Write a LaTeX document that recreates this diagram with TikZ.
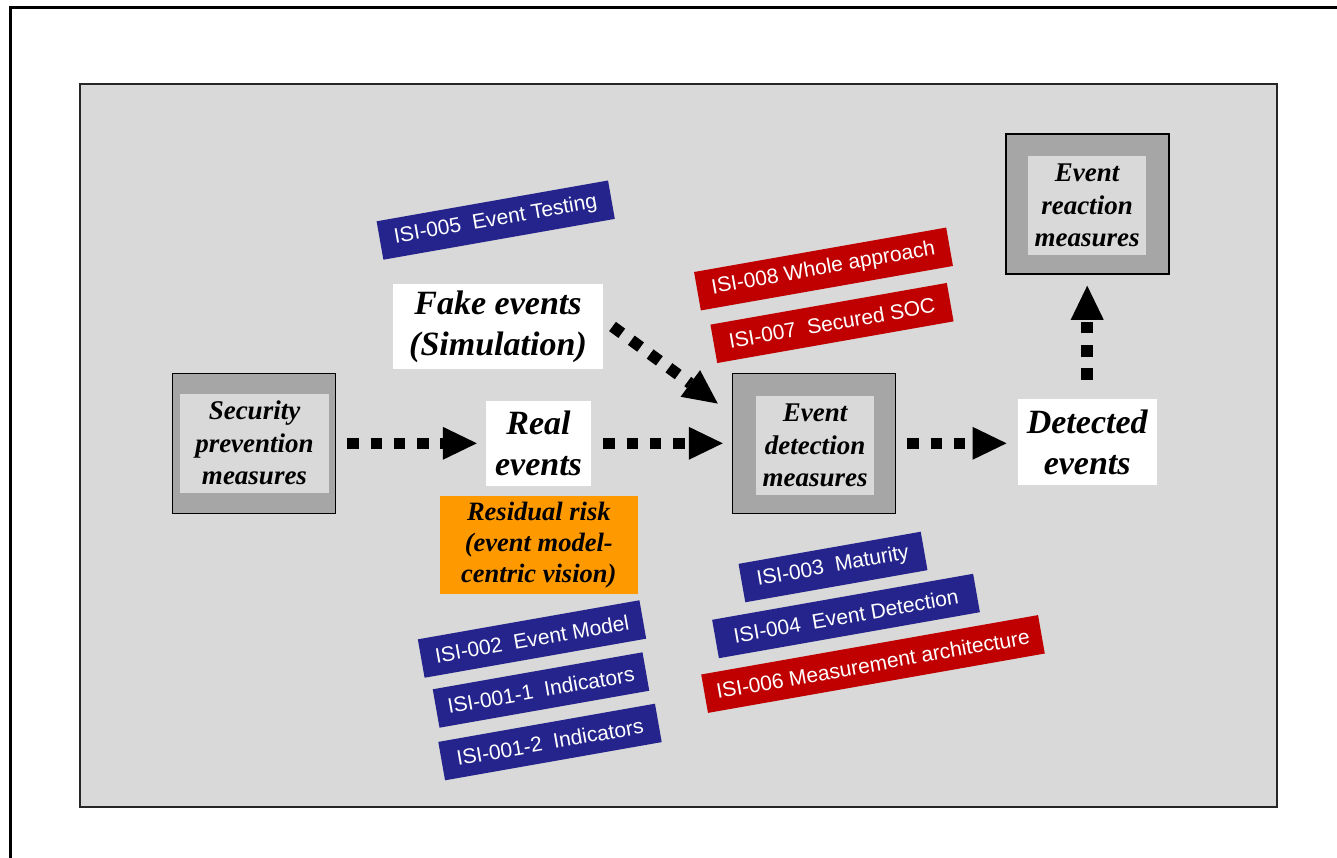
\documentclass[tikz,border=0pt]{standalone}
\usepackage{fontspec}
\setmainfont{Liberation Serif}
\newfontfamily\tagfont{Liberation Sans}
\usetikzlibrary{arrows.meta}
\definecolor{panelgray}{HTML}{D9D9D9}
\definecolor{boxgray}{HTML}{A6A6A6}
\definecolor{tagblue}{RGB}{36,36,140}
\definecolor{tagred}{HTML}{C00000}
\definecolor{riskorange}{HTML}{FF9900}
\begin{document}
\begin{tikzpicture}[x=1pt,y=-1pt,
  outerbox/.style={draw=black, line width=1.5pt, fill=boxgray, minimum width=163pt, minimum height=140pt, inner sep=0pt},
  innerbox/.style={fill=panelgray, minimum width=118pt, minimum height=99pt, inner sep=0pt, align=center, font=\fontsize{27}{32.5}\selectfont\bfseries\itshape},
  whitebox/.style={fill=white, inner sep=0pt, align=center, font=\fontsize{34}{41}\selectfont\bfseries\itshape},
  tag/.style={rotate=10, minimum height=39pt, inner sep=0pt, text=white, font=\tagfont\fontsize{21}{24}\selectfont},
  bluetag/.style={tag, fill=tagblue},
  redtag/.style={tag, fill=tagred},
  flow/.style={line width=11.5pt, dash pattern=on 11.5pt off 11.8pt, -{Triangle[length=34pt,width=33pt,line width=0pt]}}
]
\useasboundingbox (0,0) rectangle (1337,858);
\clip (0,0) rectangle (1337,858);
\fill[white] (0,0) rectangle (1337,858);
% outer frame (cut by the page at right and bottom)
\draw[line width=3pt] (10,8) rectangle (1380,900);
% grey panel
\filldraw[fill=panelgray, draw=black!85, line width=1.5pt] (80,84) rectangle (1277,807);

% measure boxes
\node[outerbox] (sec) at (254,443.3) {};
\node[innerbox, minimum width=149pt] (sectxt) at (254.5,443) {Security\\prevention\\measures};
\node[outerbox] (det) at (814,443.3) {};
\node[innerbox] (dettxt) at (815,445.5) {Event\\detection\\measures};
\node[outerbox] (react) at (1087.4,204) {};
\node[innerbox] (reacttxt) at (1087,205.4) {Event\\reaction\\measures};

% event labels
\node[whitebox, minimum width=210.6pt, minimum height=85pt] (fake) at (498,326.5) {Fake events\\(Simulation)};
\node[whitebox, minimum width=105pt, minimum height=84.7pt] (real) at (538.5,443.3) {Real\\events};
\node[whitebox, minimum width=139pt, minimum height=86pt] (detected) at (1087.2,442) {Detected\\events};
\node[fill=riskorange, minimum width=197.7pt, minimum height=98pt, inner sep=0pt, align=center, font=\fontsize{26.5}{31}\selectfont\bfseries\itshape] (risk) at (538.8,545) {Residual risk\\(event model-\\centric vision)};

% flows
\draw[flow, shorten <=11pt, shorten >=9pt] (sec.east) -- (real.west);
\draw[flow, shorten <=12pt, shorten >=9pt] (real.east) -- (det.west);
\draw[flow, shorten <=11pt, shorten >=11pt] (det.east) -- (det.east -| detected.west);
\draw[flow, shorten <=19pt, shorten >=11pt] (detected.north) -- (detected.north |- react.south);
\draw[flow] ([shift={(9,0)}]fake.east) -- ([shift={(-14,31)}]det.north west);

% ISI tags
\node[bluetag, minimum width=235pt] (t005) at (495.7,220.1) {ISI-005~~Event Testing};
\node[redtag, minimum width=256pt] (t008) at (823.5,269) {ISI-008 Whole approach};
\node[redtag, minimum width=240pt] (t007) at (832,323) {ISI-007~~Secured SOC};
\node[bluetag, minimum width=225pt] (t002) at (532,639) {ISI-002~~Event Model};
\node[bluetag, minimum width=213pt] (t0011) at (541,690) {ISI-001-1~~Indicators};
\node[bluetag, minimum width=220pt] (t0012) at (550,742) {ISI-001-2~~Indicators};
\node[bluetag, minimum width=185pt] (t003) at (833,567) {ISI-003~~Maturity};
\node[bluetag, minimum width=265pt] (t004) at (846,616) {ISI-004~~Event Detection};
\node[redtag, minimum width=342pt] (t006) at (873,664) {ISI-006 Measurement architecture};
\end{tikzpicture}
\end{document}
